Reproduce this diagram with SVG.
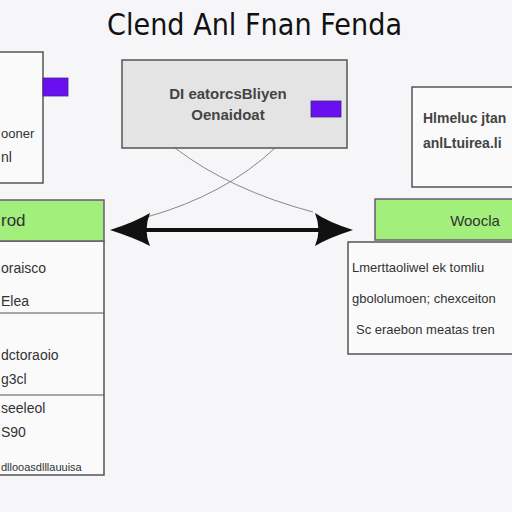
<svg xmlns="http://www.w3.org/2000/svg" width="512" height="512" viewBox="0 0 512 512">
<style>
.box{fill:#fafafa;stroke:#555;stroke-width:1.5}
.gray{fill:#e4e4e4;stroke:#555;stroke-width:1.5}
.hdr{fill:#a2ef7c;stroke:#6a5a72;stroke-width:1.5}
.pur{fill:#6a10f0;stroke:#3a2a80;stroke-width:0.8}
.t{font-family:"Liberation Sans",Arial,sans-serif;font-size:14px;fill:#333}
.b{font-weight:bold;font-size:15px;fill:#444}
.ti{font-family:"DejaVu Sans",sans-serif;font-size:30px;fill:#111}
.div{stroke:#555;stroke-width:1.2}
.thin{fill:none;stroke:#888;stroke-width:1}
</style>
<rect width="512" height="512" fill="#f6f6f8"/>
<text class="ti" x="107" y="35" textLength="295" lengthAdjust="spacingAndGlyphs">Clend Anl Fnan Fenda</text>
<g id="connectors">
<path class="thin" d="M175,148 Q230,190 313,212"/>
<path class="thin" d="M275,148 Q225,195 147,217"/>
<line x1="130" y1="230" x2="335" y2="230" stroke="#111" stroke-width="4"/>
<path d="M110,230 Q135,222 150,213 Q143,230 150,246 Q135,238 110,230 Z" fill="#111"/>
<path d="M353,230 Q328,222 315,213 Q322,230 315,246 Q328,238 353,230 Z" fill="#111"/>
</g>
<g id="node-left-top">
<rect class="box" x="-2" y="52" width="45" height="131"/>
<rect class="pur" x="43" y="78" width="25" height="18"/>
<text class="t" x="1" y="138" style="font-size:13px">ooner</text>
<text class="t" x="1" y="162">nl</text>
</g>
<g id="node-center">
<rect class="gray" x="122" y="60" width="225" height="88"/>
<rect class="pur" x="311" y="101" width="30" height="16"/>
<text class="t b" x="228" y="99" text-anchor="middle">DI eatorcsBliyen</text>
<text class="t b" x="228" y="120" text-anchor="middle">Oenaidoat</text>
</g>
<g id="node-right-top">
<rect class="box" x="412" y="87" width="102" height="100"/>
<text class="t b" x="423" y="123" style="font-size:14px">Hlmeluc jtan</text>
<text class="t b" x="423" y="148" style="font-size:14px">anlLtuirea.li</text>
</g>
<g id="node-left">
<rect class="box" x="-2" y="241" width="106" height="234"/>
<rect class="hdr" x="-2" y="200" width="106" height="41"/>
<text class="t" x="1" y="226" style="font-size:17px">rod</text>
<line class="div" x1="0" y1="313" x2="104" y2="313"/>
<line class="div" x1="0" y1="395" x2="104" y2="395"/>
<text class="t" x="1" y="273">oraisco</text>
<text class="t" x="1" y="306">Elea</text>
<text class="t" x="1" y="360">dctoraoio</text>
<text class="t" x="1" y="384">g3cl</text>
<text class="t" x="1" y="413">seeleol</text>
<text class="t" x="1" y="437">S90</text>
<text class="t" x="1" y="471" style="font-size:11px">dllooasdlllauuisa</text>
</g>
<g id="node-right">
<rect class="hdr" x="375" y="199" width="139" height="41"/>
<rect class="box" x="348" y="242" width="166" height="112"/>
<text class="t" x="475" y="226" text-anchor="middle" style="font-size:15px">Woocla</text>
<text class="t" x="352" y="272" style="font-size:13px">Lmerttaoliwel ek tomliu</text>
<text class="t" x="352" y="303" style="font-size:13px">gbololumoen; chexceiton</text>
<text class="t" x="356" y="334" style="font-size:13px">Sc eraebon meatas tren</text>
</g>
</svg>
